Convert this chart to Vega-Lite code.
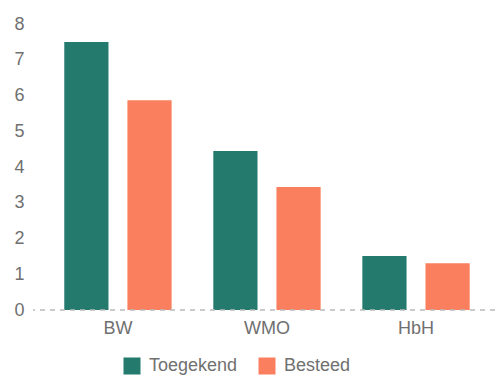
{
  "$schema": "https://vega.github.io/schema/vega-lite/v6.json",
  "autosize": "none",
  "width": 462,
  "height": 286,
  "padding": {"left": 33, "top": 24, "right": 0, "bottom": 66},
  "background": "white",
  "config": {
    "view": {"stroke": null},
    "font": "Liberation Sans"
  },
  "data": {
    "values": [
      {"cat": "BW", "type": "Toegekend", "value": 7.5},
      {"cat": "BW", "type": "Besteed", "value": 5.87},
      {"cat": "WMO", "type": "Toegekend", "value": 4.45},
      {"cat": "WMO", "type": "Besteed", "value": 3.44},
      {"cat": "HbH", "type": "Toegekend", "value": 1.51},
      {"cat": "HbH", "type": "Besteed", "value": 1.31}
    ]
  },
  "layer": [
    {
      "mark": {"type": "bar"},
      "encoding": {
        "x": {
          "field": "cat", "type": "nominal", "sort": ["BW", "WMO", "HbH"],
          "scale": {"paddingInner": 0, "paddingOuter": 0.05, "align": 0.7},
          "axis": {"title": null, "labelAngle": 0, "ticks": false, "domain": false, "labelFontSize": 18, "labelColor": "#707070", "labelPadding": 9}
        },
        "xOffset": {
          "field": "type", "type": "nominal", "sort": ["Toegekend", "Besteed"],
          "scale": {"paddingInner": 0.3, "paddingOuter": 0.33}
        },
        "y": {
          "field": "value", "type": "quantitative",
          "scale": {"domain": [0, 8]},
          "axis": {"title": null, "grid": false, "domain": false, "ticks": false, "tickCount": 8, "labelFontSize": 18, "labelColor": "#707070", "labelPadding": 9}
        },
        "color": {
          "field": "type", "type": "nominal", "sort": ["Toegekend", "Besteed"],
          "scale": {"domain": ["Toegekend", "Besteed"], "range": ["#237A6D", "#FA7F5E"]},
          "legend": {
            "title": null, "orient": "none", "direction": "horizontal",
            "legendX": 90, "legendY": 333,
            "symbolType": "square", "symbolSize": 289, "symbolStrokeWidth": 0,
            "labelFontSize": 18, "labelColor": "#707070", "labelOffset": 8,
            "columnPadding": 20
          }
        }
      }
    },
    {
      "data": {"values": [{"y": 0}]},
      "mark": {"type": "rule", "color": "#bbbbbb", "strokeDash": [5, 5], "strokeWidth": 1.5},
      "encoding": {"y": {"field": "y", "type": "quantitative"}}
    }
  ]
}
